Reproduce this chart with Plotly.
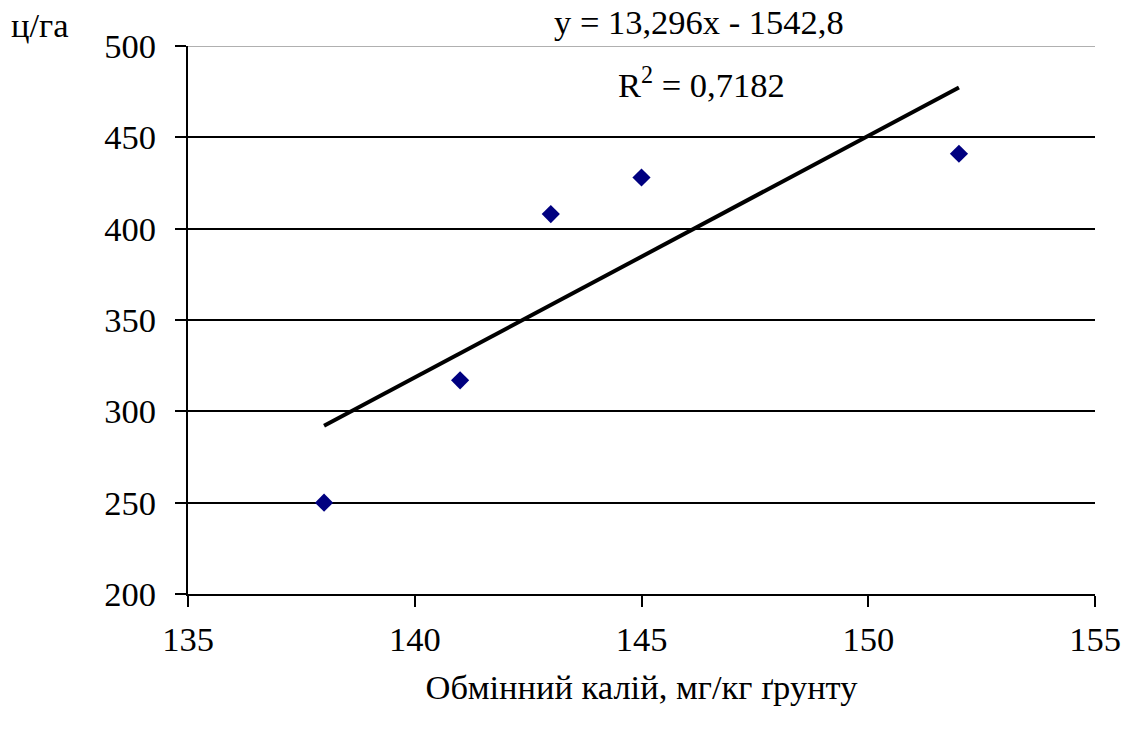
import numpy as np
import plotly.graph_objects as go

potassium = [138, 141, 143, 145, 152]
yield_cha = [250, 317, 408, 428, 441]
x_ticks = [135, 140, 145, 150, 155]
y_ticks = [200, 250, 300, 350, 400, 450, 500]

slope, intercept = np.polyfit(potassium, yield_cha, 1)
tx = [min(potassium), max(potassium)]
ty = [slope * v + intercept for v in tx]

FONT = "Liberation Serif, DejaVu Serif, serif"
FS = 34.5

fig = go.Figure()
fig.add_trace(go.Scatter(x=tx, y=ty, mode="lines",
                         line=dict(color="black", width=4), showlegend=False))
fig.add_trace(go.Scatter(x=potassium, y=yield_cha, mode="markers",
                         marker=dict(symbol="diamond", size=14, color="#000080"),
                         showlegend=False))

fig.update_layout(
    width=1125, height=731,
    margin=dict(l=188, r=30, t=46, b=137),
    paper_bgcolor="white", plot_bgcolor="white",
    font=dict(family=FONT, size=FS, color="black"),
    xaxis=dict(range=[135, 155], tickvals=x_ticks, showgrid=False, automargin=False,
               showline=True, linecolor="black", linewidth=2,
               ticks="outside", ticklen=11, tickwidth=2, tickcolor="black",
               ticklabelstandoff=3,
               tickfont=dict(family=FONT, size=FS),
               zeroline=False, title=dict(text="Обмінний калій, мг/кг ґрунту", standoff=17,
                                          font=dict(family=FONT, size=FS))),
    yaxis=dict(range=[200, 500], tickvals=y_ticks, showgrid=True, automargin=False,
               gridcolor="black", gridwidth=2,
               showline=True, linecolor="black", linewidth=2,
               ticks="outside", ticklen=11, tickwidth=2, tickcolor="black",
               ticklabelstandoff=12,
               tickfont=dict(family=FONT, size=FS),
               zeroline=False),
    shapes=[dict(type="line", xref="paper", yref="y", x0=0, x1=1, y0=500, y1=500,
                 line=dict(color="#b0b0b0", width=2), layer="above")],
    annotations=[
        dict(text="ц/га", xref="paper", yref="paper", x=-0.163, y=1.038,
             xanchor="center", yanchor="middle", showarrow=False,
             font=dict(family=FONT, size=FS)),
        dict(text="y = 13,296x - 1542,8", xref="x", yref="paper", x=146.27, y=1.044,
             xanchor="center", yanchor="middle", showarrow=False,
             font=dict(family=FONT, size=FS)),
        dict(text="R<sup>2</sup> = 0,7182", xref="x", yref="paper", x=146.33, y=0.934,
             xanchor="center", yanchor="middle", showarrow=False,
             font=dict(family=FONT, size=FS)),
    ],
)

fig.write_html("out.html", config={"displayModeBar": False},
               post_script="document.body.style.margin='0';")
